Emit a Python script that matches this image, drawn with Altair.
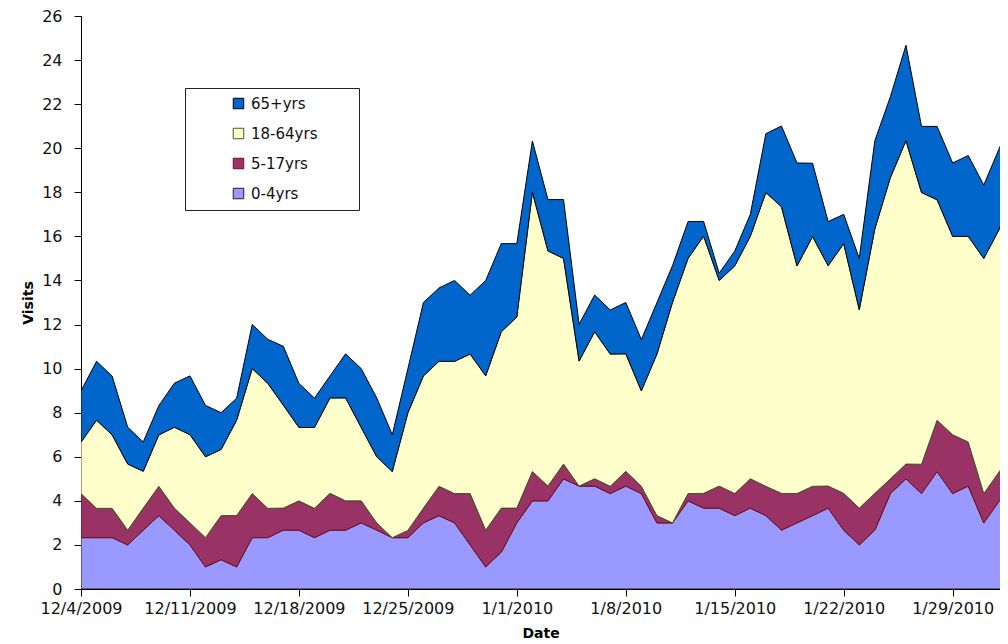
import altair as alt
import pandas as pd

# ---- data (daily visits by age group) ----
dates = pd.date_range("2009-12-04", periods=61, freq="D").strftime("%Y-%m-%dT00:00:00").tolist()

age_0_4 = [2.33, 2.33, 2.33, 2.0, 2.67, 3.33, 2.67, 2.0, 1.0, 1.33, 1.0, 2.33, 2.33, 2.67, 2.67,
           2.33, 2.67, 2.67, 3.0, 2.67, 2.33, 2.33, 3.0, 3.33, 3.0, 2.0, 1.0, 1.67, 3.0, 4.0,
           4.0, 5.0, 4.67, 4.67, 4.33, 4.67, 4.33, 3.0, 3.0, 4.0, 3.67, 3.67, 3.33, 3.67, 3.33,
           2.67, 3.0, 3.33, 3.67, 2.67, 2.0, 2.67, 4.33, 5.0, 4.33, 5.33, 4.33, 4.67, 3.0, 4.0, 5.0]
age_5_17 = [2.0, 1.33, 1.33, 0.67, 1.0, 1.33, 1.0, 1.0, 1.33, 2.0, 2.33, 2.0, 1.33, 1.0, 1.33,
            1.33, 1.67, 1.33, 1.0, 0.33, 0.0, 0.33, 0.67, 1.33, 1.33, 2.33, 1.67, 2.0, 0.67, 1.33,
            0.67, 0.67, 0.0, 0.33, 0.33, 0.67, 0.33, 0.33, 0.0, 0.33, 0.67, 1.0, 1.0, 1.33, 1.33,
            1.67, 1.33, 1.33, 1.0, 1.67, 1.67, 1.67, 0.67, 0.67, 1.33, 2.33, 2.67, 2.0, 1.33, 1.33, 1.33]
age_18_64 = [2.33, 4.0, 3.33, 3.0, 1.67, 2.33, 3.67, 4.0, 3.67, 3.0, 4.33, 5.67, 5.67, 4.67, 3.33,
             3.67, 4.33, 4.67, 3.33, 3.0, 3.0, 5.33, 6.0, 5.67, 6.0, 6.33, 7.0, 8.0, 8.67, 12.67,
             10.67, 9.33, 5.67, 6.67, 6.0, 5.33, 4.33, 7.33, 10.0, 10.67, 11.67, 9.33, 10.33, 11.0, 13.33,
             13.0, 10.33, 11.33, 10.0, 11.33, 9.0, 12.0, 13.67, 14.67, 12.33, 10.0, 9.0, 9.33, 10.67, 11.0, 12.33]
age_65_plus = [2.33, 2.67, 2.67, 1.67, 1.33, 1.33, 2.0, 2.67, 2.33, 1.67, 1.0, 2.0, 2.0, 2.67, 2.0,
               1.33, 1.0, 2.0, 2.67, 2.67, 1.67, 2.0, 3.33, 3.33, 3.67, 2.67, 4.33, 4.0, 3.33, 2.33,
               2.33, 2.67, 1.67, 1.67, 2.0, 2.33, 2.33, 2.33, 1.67, 1.67, 0.67, 0.33, 0.67, 1.0, 2.67,
               3.67, 4.67, 3.33, 2.0, 1.33, 2.33, 4.0, 3.67, 4.33, 3.0, 3.33, 3.33, 3.67, 3.33, 3.67, 3.0]

series_names = ["0-4yrs", "5-17yrs", "18-64yrs", "65+yrs"]
series_values = [age_0_4, age_5_17, age_18_64, age_65_plus]
fill_colors = ["#9999FF", "#993366", "#FFFFCC", "#0066CC"]
stroke_colors = ["#202020", "#7A0A1E", "#3A5A2A", "#000000"]

tick_dates = [(2009, 12, 4), (2009, 12, 11), (2009, 12, 18), (2009, 12, 25), (2010, 1, 1),
              (2010, 1, 8), (2010, 1, 15), (2010, 1, 22), (2010, 1, 29)]
y_ticks = list(range(0, 27, 2))

rows = []
for k, (name, vals) in enumerate(zip(series_names, series_values)):
    for dt, v in zip(dates, vals):
        rows.append({"Date": dt, "series": name, "Visits": v, "ord": k})
df = pd.DataFrame(rows)

legend_order = list(reversed(series_names))
legend_fill = list(reversed(fill_colors))
legend_stroke = list(reversed(stroke_colors))

FONT = "DejaVu Sans"
PAD_EXPR = "datum.label + '" + "\u00a0" * 7 + "\u200b'"


def make_legend():
    return alt.Legend(
        title=None, orient="none", legendX=104, legendY=72, direction="vertical",
        symbolType="square", symbolSize=110, symbolStrokeWidth=1, symbolOpacity=1,
        labelFont=FONT, labelFontSize=15, labelColor="#111111",
        labelExpr=PAD_EXPR,
        padding=8, rowPadding=14, symbolOffset=38, labelOffset=5,
        strokeColor="#222222", fillColor="white",
    )


chart = alt.Chart(df).mark_area(clip=True, strokeWidth=1, opacity=1, interpolate="linear").encode(
    x=alt.X(
        "Date:T",
        scale=alt.Scale(domain=[alt.DateTime(year=2009, month=12, date=4),
                                alt.DateTime(year=2010, month=2, date=1, hours=1)]),
        axis=alt.Axis(
            values=[alt.DateTime(year=y, month=m, date=d) for (y, m, d) in tick_dates],
            format="%-m/%-d/%Y", title="Date", grid=False, labelFlush=False, labelOverlap=False,
            tickSize=7, tickColor="black", domainColor="black", labelColor="#111111",
            labelFont=FONT, labelFontSize=16, labelPadding=4,
            titleFont=FONT, titleFontSize=14, titleFontWeight="bold", titleColor="black", titlePadding=10,
        ),
    ),
    y=alt.Y(
        "Visits:Q", stack="zero",
        scale=alt.Scale(domain=[0, 26], nice=False),
        axis=alt.Axis(
            values=y_ticks, title="Visits", grid=False,
            tickSize=7, tickColor="black", domainColor="black", labelColor="#111111",
            labelFont=FONT, labelFontSize=16, labelPadding=12,
            titleFont=FONT, titleFontSize=14, titleFontWeight="bold", titleColor="black", titlePadding=6,
        ),
    ),
    color=alt.Color(
        "series:N",
        scale=alt.Scale(domain=legend_order, range=legend_fill),
        legend=make_legend(),
    ),
    stroke=alt.Stroke(
        "series:N",
        scale=alt.Scale(domain=legend_order, range=legend_stroke),
        legend=make_legend(),
    ),
    order=alt.Order("ord:Q", sort="ascending"),
).properties(
    width=919, height=573,
    padding={"left": 73, "top": 8, "right": 0, "bottom": 54},
    autosize=alt.AutoSizeParams(type="none"),
).configure(font=FONT).configure_view(stroke=None)

chart.save("out.html", embed_options={"renderer": "svg", "actions": False})
